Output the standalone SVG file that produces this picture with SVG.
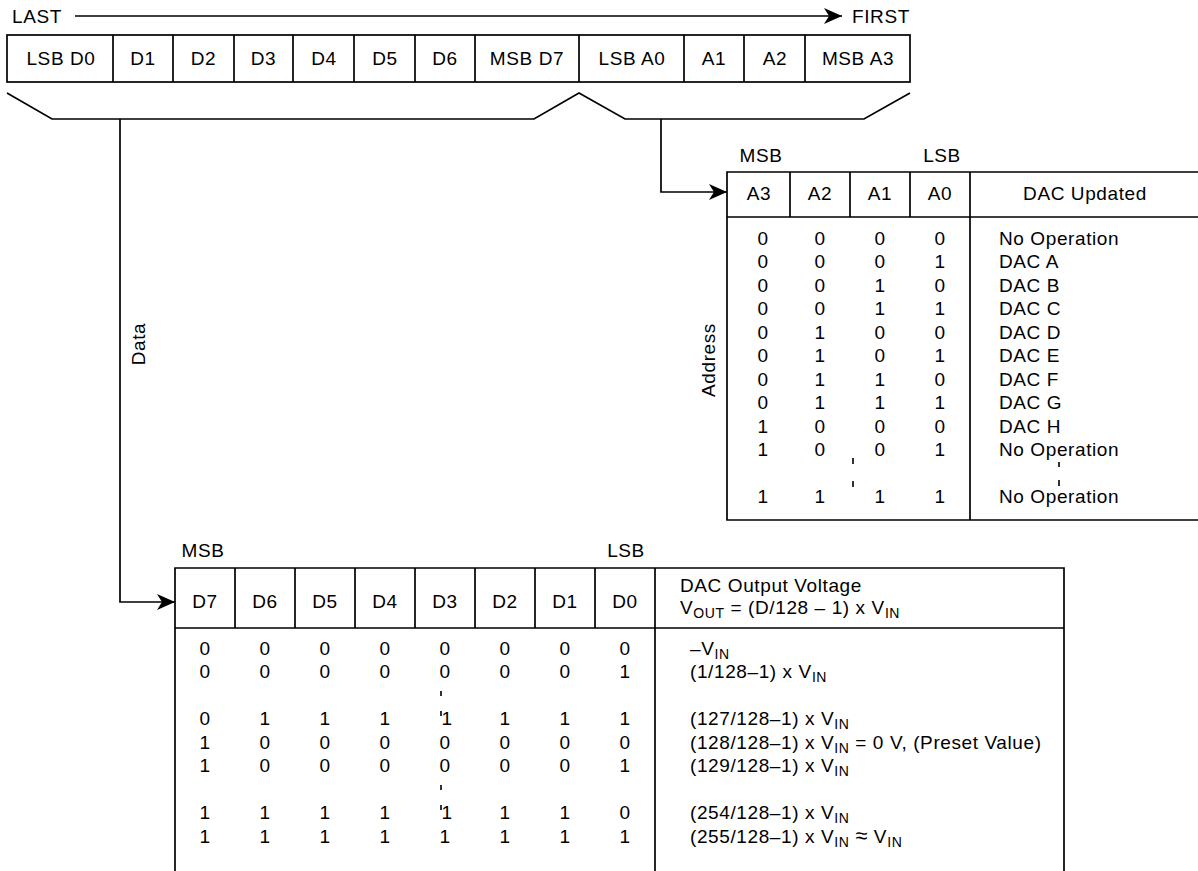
<svg xmlns="http://www.w3.org/2000/svg" width="1198" height="871" viewBox="0 0 1198 871">
<style>
text{font-family:"Liberation Sans",Arial,Helvetica,sans-serif;font-size:19px;letter-spacing:0.6px;fill:#000}
.c{text-anchor:middle}
.ln{fill:none;stroke:#000;stroke-width:1.7}
.sub{font-size:14px}
.big{font-size:22px}
.tick{stroke:#000;stroke-width:1.6}
</style>
<defs>
<marker id="ah" markerUnits="userSpaceOnUse" markerWidth="18" markerHeight="16" refX="18" refY="8" orient="auto">
<path d="M0,0 L18,8 L0,16 L5,8 z" fill="#000"/>
</marker>
</defs>
<rect width="1198" height="871" fill="#fff"/>

<g id="order">
<text x="12" y="23">LAST</text>
<text x="852" y="23">FIRST</text>
</g>

<g id="shift-register">
<rect class="ln" x="7" y="35" width="903" height="47"/>
<path class="ln" d="M113,35V82M173,35V82M234,35V82M293,35V82M354,35V82M415,35V82M475,35V82M579,35V82M684,35V82M744,35V82M805,35V82"/>
<text class="c" x="61" y="65">LSB D0</text>
<text class="c" x="143" y="65">D1</text>
<text class="c" x="203.5" y="65">D2</text>
<text class="c" x="263.5" y="65">D3</text>
<text class="c" x="324" y="65">D4</text>
<text class="c" x="385" y="65">D5</text>
<text class="c" x="445" y="65">D6</text>
<text class="c" x="527" y="65">MSB D7</text>
<text class="c" x="632" y="65">LSB A0</text>
<text class="c" x="714" y="65">A1</text>
<text class="c" x="775" y="65">A2</text>
<text class="c" x="858" y="65">MSB A3</text>
</g>

<g id="brace">
<polyline class="ln" points="7,93 52,119 534,119 579,93 625,119 864,119 910,93"/>
</g>

<g id="connectors">
<line class="ln" x1="75" y1="16" x2="842" y2="16" marker-end="url(#ah)"/>
<polyline class="ln" points="120,119 120,602 175,602" marker-end="url(#ah)"/>
<polyline class="ln" points="661,119 661,192 727,192" marker-end="url(#ah)"/>
</g>

<g id="data-label">
<text class="c" transform="translate(145,344) rotate(-90)">Data</text>
</g>
<g id="address-label">
<text class="c" transform="translate(715,360) rotate(-90)">Address</text>
</g>

<g id="address-table">
<path class="ln" d="M1198,172H727V520H1198M727,217H1198M790,172V217M850,172V217M910,172V217M970,172V520"/>
<text class="c" x="761" y="162">MSB</text>
<text class="c" x="942" y="162">LSB</text>
<text class="c" x="759" y="199.5">A3</text>
<text class="c" x="820" y="199.5">A2</text>
<text class="c" x="880" y="199.5">A1</text>
<text class="c" x="940" y="199.5">A0</text>
<text class="c" x="1085" y="199.5">DAC Updated</text>
<g>
<text class="c" x="763" y="244.5">0</text><text class="c" x="820" y="244.5">0</text><text class="c" x="880" y="244.5">0</text><text class="c" x="940" y="244.5">0</text>
<text class="c" x="763" y="268">0</text><text class="c" x="820" y="268">0</text><text class="c" x="880" y="268">0</text><text class="c" x="940" y="268">1</text>
<text class="c" x="763" y="291.5">0</text><text class="c" x="820" y="291.5">0</text><text class="c" x="880" y="291.5">1</text><text class="c" x="940" y="291.5">0</text>
<text class="c" x="763" y="315">0</text><text class="c" x="820" y="315">0</text><text class="c" x="880" y="315">1</text><text class="c" x="940" y="315">1</text>
<text class="c" x="763" y="338.5">0</text><text class="c" x="820" y="338.5">1</text><text class="c" x="880" y="338.5">0</text><text class="c" x="940" y="338.5">0</text>
<text class="c" x="763" y="362">0</text><text class="c" x="820" y="362">1</text><text class="c" x="880" y="362">0</text><text class="c" x="940" y="362">1</text>
<text class="c" x="763" y="385.5">0</text><text class="c" x="820" y="385.5">1</text><text class="c" x="880" y="385.5">1</text><text class="c" x="940" y="385.5">0</text>
<text class="c" x="763" y="409">0</text><text class="c" x="820" y="409">1</text><text class="c" x="880" y="409">1</text><text class="c" x="940" y="409">1</text>
<text class="c" x="763" y="432.5">1</text><text class="c" x="820" y="432.5">0</text><text class="c" x="880" y="432.5">0</text><text class="c" x="940" y="432.5">0</text>
<text class="c" x="763" y="456">1</text><text class="c" x="820" y="456">0</text><text class="c" x="880" y="456">0</text><text class="c" x="940" y="456">1</text>
<text class="c" x="763" y="503">1</text><text class="c" x="820" y="503">1</text><text class="c" x="880" y="503">1</text><text class="c" x="940" y="503">1</text>
</g>
<text x="999" y="244.5">No Operation</text>
<text x="999" y="268">DAC A</text>
<text x="999" y="291.5">DAC B</text>
<text x="999" y="315">DAC C</text>
<text x="999" y="338.5">DAC D</text>
<text x="999" y="362">DAC E</text>
<text x="999" y="385.5">DAC F</text>
<text x="999" y="409">DAC G</text>
<text x="999" y="432.5">DAC H</text>
<text x="999" y="456">No Operation</text>
<text x="999" y="503">No Operation</text>
<path class="tick" d="M853,458V464M853,481V487M1059,462V467M1059,480V486"/>
</g>

<g id="data-table">
<path class="ln" d="M175,871V568H1064V871M175,628H1064M235,568V628M295,568V628M355,568V628M415,568V628M475,568V628M535,568V628M595,568V628M655,568V871"/>
<text class="c" x="203" y="557">MSB</text>
<text class="c" x="626" y="557">LSB</text>
<text class="c" x="205" y="608">D7</text>
<text class="c" x="265" y="608">D6</text>
<text class="c" x="325" y="608">D5</text>
<text class="c" x="385" y="608">D4</text>
<text class="c" x="445" y="608">D3</text>
<text class="c" x="505" y="608">D2</text>
<text class="c" x="565" y="608">D1</text>
<text class="c" x="625" y="608">D0</text>
<text x="680" y="592">DAC Output Voltage</text>
<text x="680" y="614">V<tspan class="sub" dy="4">OUT</tspan><tspan dy="-4"> = (D/128 – 1) x V</tspan><tspan class="sub" dy="4">IN</tspan></text>

<g>
<text class="c" x="205" y="654.5">0</text><text class="c" x="265" y="654.5">0</text><text class="c" x="325" y="654.5">0</text><text class="c" x="385" y="654.5">0</text><text class="c" x="445" y="654.5">0</text><text class="c" x="505" y="654.5">0</text><text class="c" x="565" y="654.5">0</text><text class="c" x="625" y="654.5">0</text>
<text class="c" x="205" y="678">0</text><text class="c" x="265" y="678">0</text><text class="c" x="325" y="678">0</text><text class="c" x="385" y="678">0</text><text class="c" x="445" y="678">0</text><text class="c" x="505" y="678">0</text><text class="c" x="565" y="678">0</text><text class="c" x="625" y="678">1</text>
<text class="c" x="205" y="725">0</text><text class="c" x="265" y="725">1</text><text class="c" x="325" y="725">1</text><text class="c" x="385" y="725">1</text><text class="c" x="447" y="725">1</text><text class="c" x="505" y="725">1</text><text class="c" x="565" y="725">1</text><text class="c" x="625" y="725">1</text>
<text class="c" x="205" y="748.5">1</text><text class="c" x="265" y="748.5">0</text><text class="c" x="325" y="748.5">0</text><text class="c" x="385" y="748.5">0</text><text class="c" x="445" y="748.5">0</text><text class="c" x="505" y="748.5">0</text><text class="c" x="565" y="748.5">0</text><text class="c" x="625" y="748.5">0</text>
<text class="c" x="205" y="772">1</text><text class="c" x="265" y="772">0</text><text class="c" x="325" y="772">0</text><text class="c" x="385" y="772">0</text><text class="c" x="445" y="772">0</text><text class="c" x="505" y="772">0</text><text class="c" x="565" y="772">0</text><text class="c" x="625" y="772">1</text>
<text class="c" x="205" y="819">1</text><text class="c" x="265" y="819">1</text><text class="c" x="325" y="819">1</text><text class="c" x="385" y="819">1</text><text class="c" x="447" y="819">1</text><text class="c" x="505" y="819">1</text><text class="c" x="565" y="819">1</text><text class="c" x="625" y="819">0</text>
<text class="c" x="205" y="842.5">1</text><text class="c" x="265" y="842.5">1</text><text class="c" x="325" y="842.5">1</text><text class="c" x="385" y="842.5">1</text><text class="c" x="445" y="842.5">1</text><text class="c" x="505" y="842.5">1</text><text class="c" x="565" y="842.5">1</text><text class="c" x="625" y="842.5">1</text>
</g>
<path class="tick" d="M441,691V696M441,711V716M441,785V790M441,805V810"/>

<text x="690" y="654.5">–V<tspan class="sub" dy="4">IN</tspan></text>
<text x="690" y="678">(1/128–1) x V<tspan class="sub" dy="4">IN</tspan></text>
<text x="690" y="725">(127/128–1) x V<tspan class="sub" dy="4">IN</tspan></text>
<text x="690" y="748.5">(128/128–1) x V<tspan class="sub" dy="4">IN</tspan><tspan dy="-4"> = 0 V, (Preset Value)</tspan></text>
<text x="690" y="772">(129/128–1) x V<tspan class="sub" dy="4">IN</tspan></text>
<text x="690" y="819">(254/128–1) x V<tspan class="sub" dy="4">IN</tspan></text>
<text x="690" y="842.5">(255/128–1) x V<tspan class="sub" dy="4">IN</tspan><tspan dy="-4"> </tspan><tspan class="big">≈</tspan><tspan> V</tspan><tspan class="sub" dy="4">IN</tspan></text>
</g>
</svg>
